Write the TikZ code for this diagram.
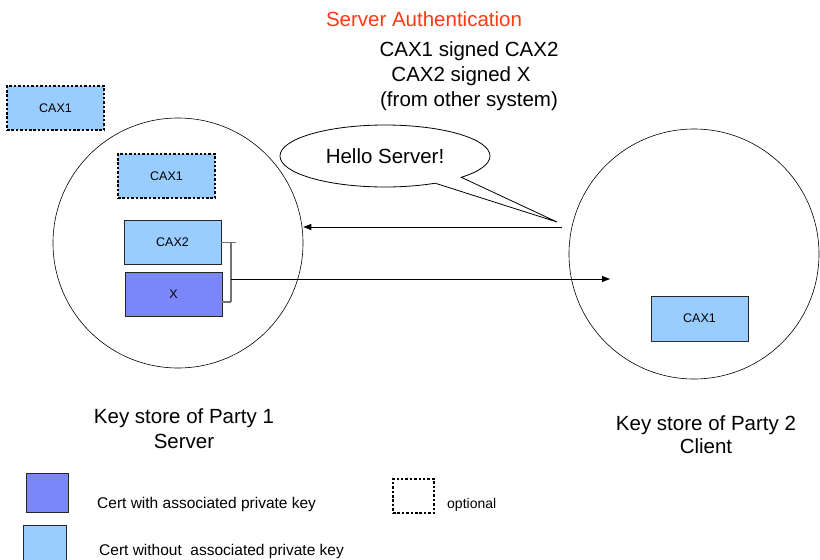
\documentclass[tikz,border=0pt]{standalone}
\usepackage{fontspec}
\setmainfont{Liberation Sans}
\usetikzlibrary{arrows.meta,shapes.callouts,calc}
\definecolor{certlight}{HTML}{99CCFF}
\definecolor{certdark}{HTML}{7B86F8}
\definecolor{titlered}{HTML}{FF3816}
\begin{document}
\begin{tikzpicture}[x=1pt,y=-1pt,
  cert/.style={draw=black!85, line width=0.8pt, minimum width=97pt, minimum height=44pt,
    inner sep=0pt, font=\fontsize{12.5}{15}\selectfont},
  light/.style={cert, fill=certlight},
  dark/.style={cert, fill=certdark},
  optbox/.style={draw=black, line width=2.7pt, dash pattern=on 2.5pt off 1.9pt},
  store/.style={circle, draw, line width=0.6pt, minimum size=250pt, inner sep=0pt},
  big/.style={font=\fontsize{20.5}{24}\selectfont, inner sep=0pt},
  small/.style={font=\fontsize{15.5}{18}\selectfont, inner sep=0pt, anchor=base west},
  msg/.style={line width=0.8pt, -{Triangle[length=8pt,width=6pt]}},
  bracket/.style={draw=black!55, line width=1.3pt},
]
\useasboundingbox (0,0) rectangle (820,560);
\fill[white] (0,0) rectangle (820,560);

% headings
\node[big, anchor=base, text=titlered] (title) at (424,26.5) {Server Authentication};
\node[big, anchor=base] (chain1) at (469,56.5) {CAX1 signed CAX2};
\node[big, anchor=base] (chain2) at (461,81.5) {CAX2 signed X};
\node[big, anchor=base] (chain3) at (469,106.5) {(from other system)};

% stray optional root outside the key store
\node[light, optbox] (rootOut) at (55.5,108) {CAX1};

% key stores
\node[store] (ks1) at (178,243) {};
\node[store] (ks2) at (694,254) {};

% party 1 certificates
\node[light, optbox] (root1) at (166.5,176) {CAX1};
\node[light] (cax2) at (172.5,242.5) {CAX2};
\node[dark] (x) at (173.5,294) {X};

% party 2 certificate
\node[light, minimum height=45pt] (root2) at (699.5,318.5) {CAX1};
\draw[black!80, line width=1.6pt] (root2.south west) -- (root2.south east);

% chain bracket
\coordinate (chainOut) at (231,279);
\draw[bracket] (cax2.east) -- ++(15,0);
\draw[bracket] ($(x.east)+(0,8)$) -- ++(9,0);
\draw[bracket] (231,242.5) -- (231,302);

% messages
\coordinate (helloSrc) at (562,227);
\coordinate (chainIn) at (610,279);
\draw[msg] (helloSrc) -- (helloSrc -| ks1.east);
\draw[msg] (chainOut) -- (chainIn);

% speech bubble
\coordinate (tip) at (557,222);
\node[ellipse callout, draw, line width=0.8pt, fill=white, minimum width=210pt,
  minimum height=62pt, inner sep=0pt, callout absolute pointer={(tip)},
  callout pointer arc=18, big] (hello) at (385,156) {Hello Server!};

% store captions
\node[big, anchor=base] (cap1a) at (184,423) {Key store of Party 1};
\node[big, anchor=base] (cap1b) at (184,448) {Server};
\node[big, anchor=base] (cap2a) at (706,430) {Key store of Party 2};
\node[big, anchor=base] (cap2b) at (706,453) {Client};

% legend
\node[dark, minimum width=42pt, minimum height=39pt] (legDark) at (47,492.5) {};
\node[light, minimum width=43pt, minimum height=40pt] (legLight) at (44.5,545) {};
\node[small] (legDarkTxt) at (97,508) {Cert with associated private key};
\node[small] (legLightTxt) at (99,555) {Cert without\ \ associated private key};
\node[optbox, minimum width=41pt, minimum height=34pt, inner sep=0pt] (legOpt) at (413.5,496) {};
\node[small, font=\fontsize{14}{17}\selectfont] (legOptTxt) at (447,508) {optional};
\end{tikzpicture}
\end{document}
